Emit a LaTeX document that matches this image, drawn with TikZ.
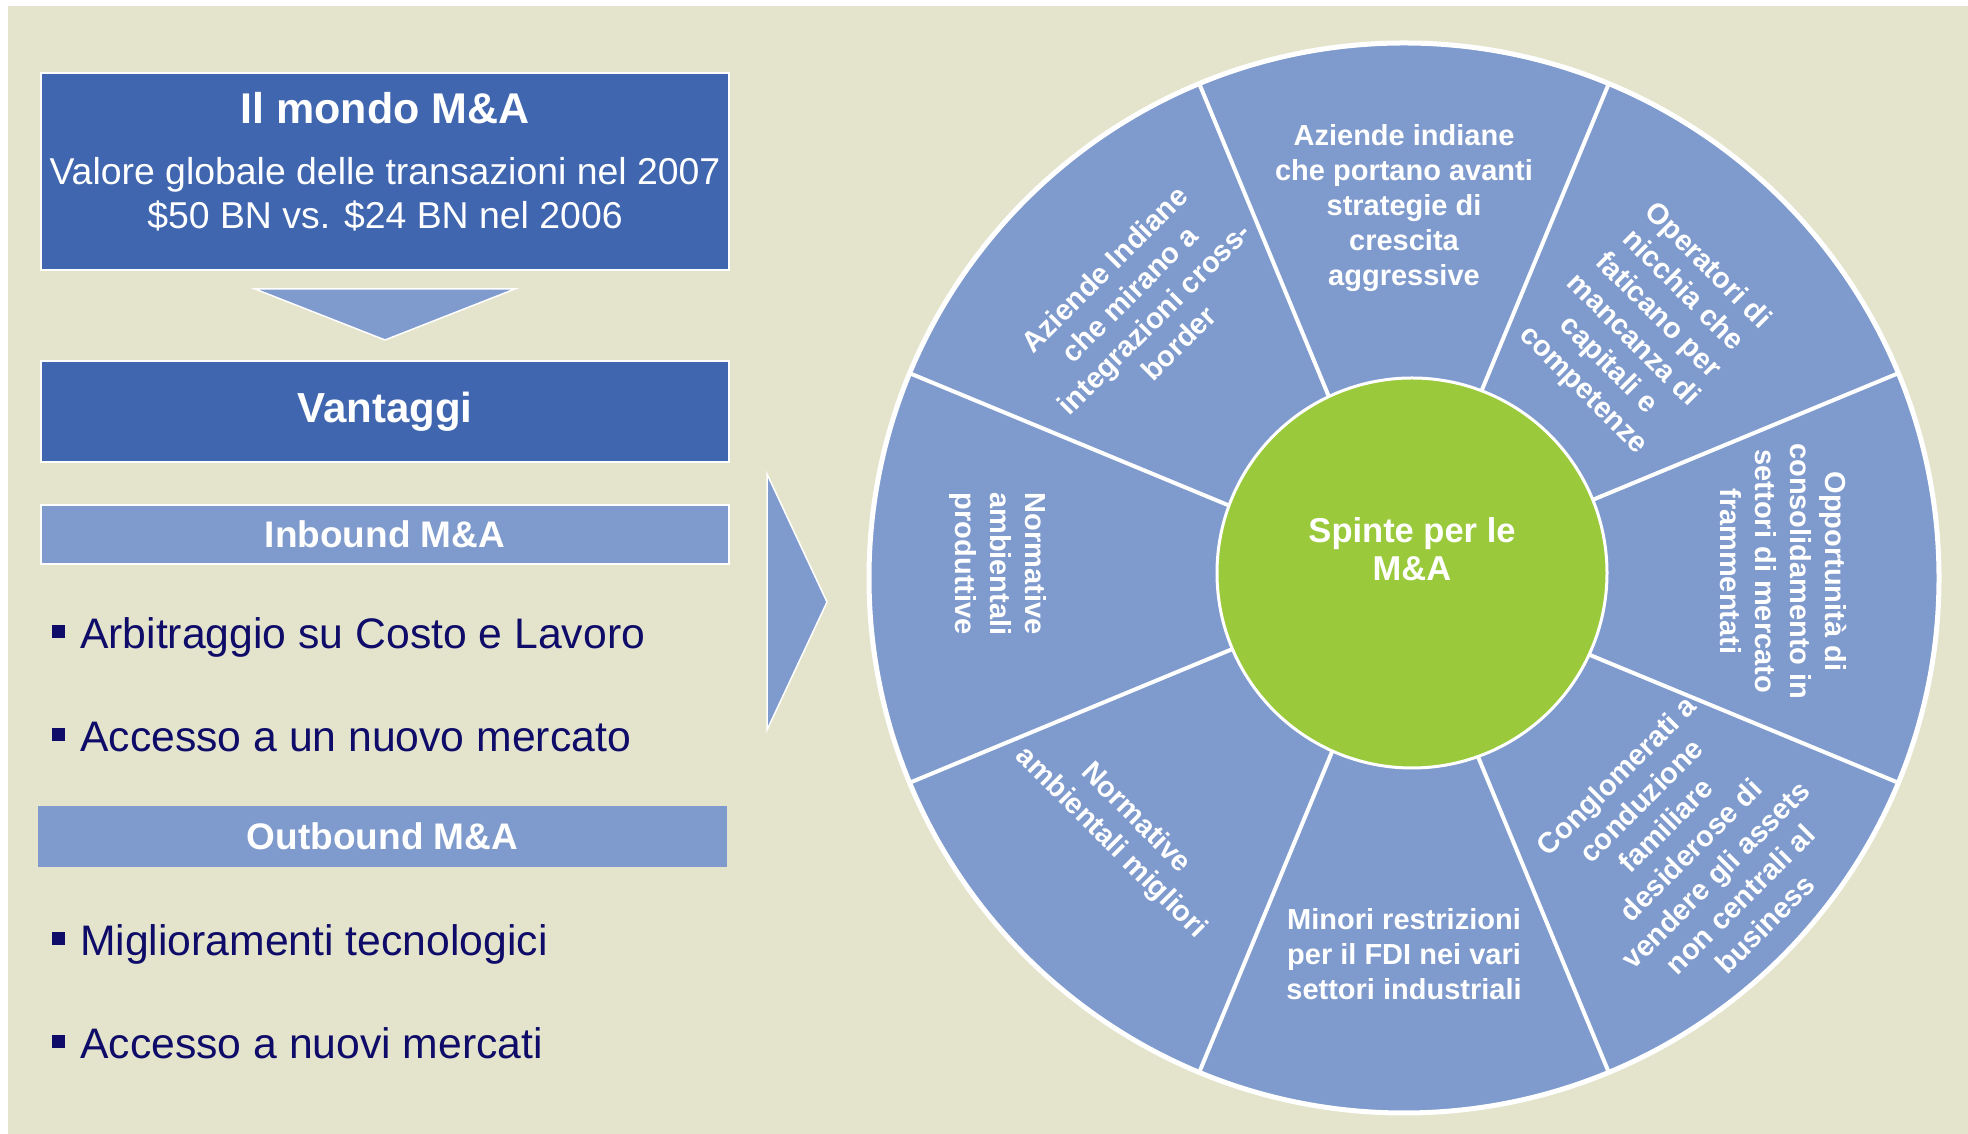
\documentclass[tikz,border=0pt]{standalone}
\usepackage{fontspec}
\setmainfont{Liberation Sans}
\usepackage{tikz}
\usetikzlibrary{positioning,calc}
\definecolor{sfondo}{RGB}{228,228,204}
\definecolor{blu}{RGB}{65,102,176}
\definecolor{azzurro}{RGB}{127,154,204}
\definecolor{verde}{RGB}{154,202,60}
\definecolor{inchiostro}{RGB}{14,12,104}
\tikzstyle{darkbox} = [rectangle, draw=white, line width=2pt, fill=blu, text=white, minimum width=688pt, align=center, inner sep=0pt, outer sep=0pt]
\tikzstyle{boxtext} = [text=white, align=center, inner sep=0pt, font=\fontsize{37.4}{44}\selectfont]
\tikzstyle{lightbox} = [rectangle, fill=azzurro, text=white, minimum width=688pt, inner sep=0pt, outer sep=0pt, font=\fontsize{37}{44}\selectfont\bfseries]
\tikzstyle{item} = [anchor=base west, inner sep=0pt, text=inchiostro, font=\fontsize{42.7}{50}\selectfont]
\tikzstyle{bulletsq} = [rectangle, fill=inchiostro, minimum size=13pt, inner sep=0pt, outer sep=0pt]
\tikzstyle{wheel} = [circle, draw=white, line width=5pt, fill=azzurro, minimum size=1070pt, inner sep=0pt, outer sep=0pt]
\tikzstyle{hub} = [circle, draw=white, line width=3pt, fill=verde, minimum size=390pt, inner sep=0pt]
\tikzstyle{spoke} = [draw=white, line width=4pt]
\tikzstyle{sector} = [text=white, align=center, font=\fontsize{29}{35}\selectfont\bfseries, inner sep=0pt]

\begin{document}
\begin{tikzpicture}[x=1pt, y=1pt]
    \useasboundingbox (0,0) rectangle (1968,1134);
    \fill[sfondo] (8,0) rectangle (1968,1128);

    \node[darkbox, minimum height=197pt] (mondo) at (385,962.5) {};
    \node[boxtext] (mondotxt) at ([yshift=10pt]mondo.center)
        {{\fontsize{43}{50}\selectfont\bfseries Il mondo M\&A}\\[17pt]
         Valore globale delle transazioni nel 2007\\ \$50 BN vs. \$24 BN nel 2006};
    \fill[azzurro, draw=white, line width=1.5pt] ($(mondo.south)+(-130,-19)$) -- ($(mondo.south)+(130,-19)$) -- ($(mondo.south)+(0,-70)$) -- cycle;
    \node[darkbox, minimum height=101pt, font=\fontsize{42}{50}\selectfont\bfseries, below=91pt of mondo] (vantaggi) {Vantaggi};
    \node[lightbox, draw=white, line width=2pt, minimum height=59pt, below=43pt of vantaggi] (inbound) {Inbound M\&A};

    \node[item] (arbitraggio) at (80,485) {Arbitraggio su Costo e Lavoro};
    \node[item] (mercato) at (80,382) {Accesso a un nuovo mercato};
    \node[lightbox, minimum width=689pt, minimum height=61pt] (outbound) at (382.5,297.5) {Outbound M\&A};
    \node[item] (tecnologia) at (80,178) {Miglioramenti tecnologici};
    \node[item] (mercati) at (80,75) {Accesso a nuovi mercati};
    \node[bulletsq, left=15pt of arbitraggio.base west, yshift=17pt] (b1) {};
    \node[bulletsq, left=15pt of mercato.base west, yshift=17pt] (b2) {};
    \node[bulletsq, left=15pt of tecnologia.base west, yshift=17pt] (b3) {};
    \node[bulletsq, left=15pt of mercati.base west, yshift=17pt] (b4) {};

    \fill[azzurro, draw=white, line width=1.5pt] (767,660) -- (827,532) -- (767,404) -- cycle;

    \node[wheel] (ruota) at (1404,556) {};
    \foreach \a in {22.5,67.5,...,337.5}
        \draw[spoke] (ruota.center) -- ++(\a:533);
    \node[hub] (spinte) at (1412,561) {};
    \node[sector, font=\fontsize{34.5}{38}\selectfont\bfseries] (spintetxt) at ([yshift=24pt]spinte.center) {Spinte per le\\M\&A};

    \node[sector] (s90) at ($(ruota)+(90:370)$) {Aziende indiane\\che portano avanti\\strategie di\\crescita\\aggressive};
    \node[sector, rotate=-45] (s45) at ($(ruota)+(46:347)$) {Operatori di\\nicchia che\\faticano per\\mancanza di\\capitali e\\competenze};
    \node[sector, rotate=-90] (s0) at ($(ruota)+(1:380)$) {Opportunità di\\consolidamento in\\settori di mercato\\frammentati};
    \node[sector, rotate=45] (s315) at ($(ruota)+(-43.5:395)$) {Conglomerati a\\conduzione\\familiare\\desiderose di\\vendere gli assets\\non centrali al\\business};
    \node[sector] (s270) at ($(ruota)+(-90:376)$) {Minori restrizioni\\per il FDI nei vari\\settori industriali};
    \node[sector, rotate=-45] (s225) at ($(ruota)+(-138:378)$) {Normative\\ambientali migliori};
    \node[sector, rotate=-90] (s180) at ($(ruota)+(178:406)$) {Normative\\ambientali\\produttive};
    \node[sector, rotate=45] (s135) at ($(ruota)+(134:378)$) {Aziende Indiane\\che mirano a\\integrazioni cross-\\border};
\end{tikzpicture}
\end{document}
